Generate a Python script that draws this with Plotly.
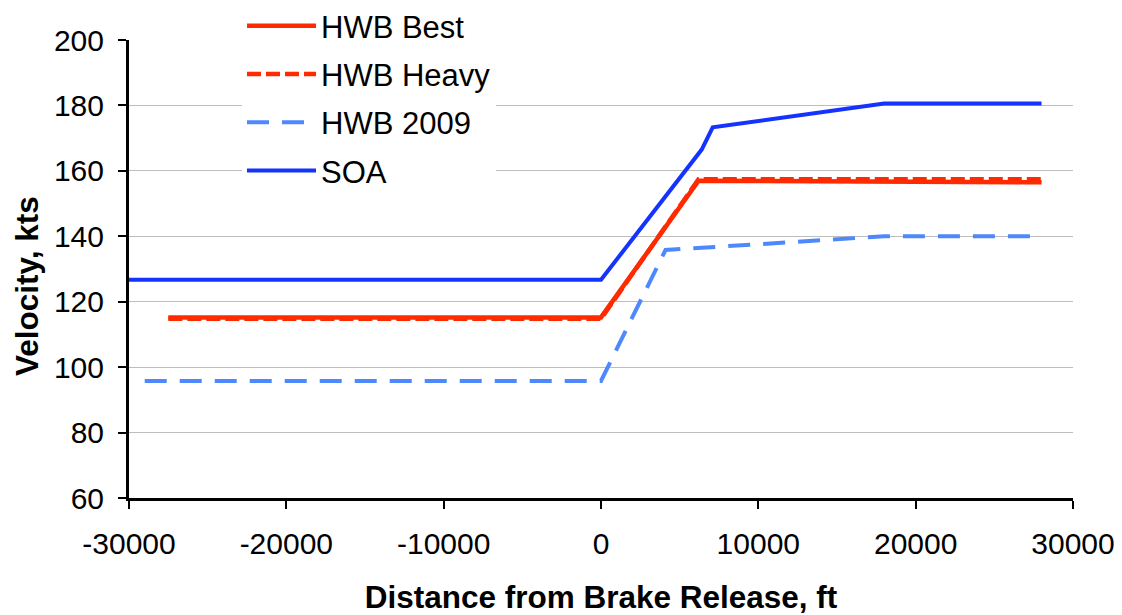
import plotly.graph_objects as go

# Data (distance ft, velocity kts)
best_x = [-27500, 0, 6200, 28000]
best_y = [115.2, 115.2, 157.0, 156.5]

heavy_x = [-27500, 0, 6200, 28000]
heavy_y = [114.8, 114.8, 157.4, 157.4]

hwb2009_x = [-29000, 0, 4100, 18000, 28000]
hwb2009_y = [95.8, 95.8, 135.8, 140.0, 140.0]

soa_x = [-30000, 0, 6400, 7100, 18000, 28000]
soa_y = [126.7, 126.7, 166.5, 173.3, 180.6, 180.6]

x_ticks = [-30000, -20000, -10000, 0, 10000, 20000, 30000]
y_ticks = [60, 80, 100, 120, 140, 160, 180, 200]

RED = "#ff2a00"
BLUE = "#1433ff"
LBLUE = "#4d88ff"

W, H = 1114, 607
L, R, T, B = 121, 49, 32, 117
PW, PH = W - L - R, H - T - B

fig = go.Figure()
fig.add_trace(go.Scatter(x=best_x, y=best_y, mode="lines", name="HWB Best",
                         legendgroup="a",
                         line=dict(color=RED, width=4.5)))
fig.add_trace(go.Scatter(x=heavy_x, y=heavy_y, mode="lines", name="HWB Heavy",
                         legendgroup="b",
                         line=dict(color=RED, width=4.5, dash="14px,5px")))
fig.add_trace(go.Scatter(x=hwb2009_x, y=hwb2009_y, mode="lines", name="HWB 2009",
                         legendgroup="c",
                         line=dict(color=LBLUE, width=4, dash="22px,13px")))
fig.add_trace(go.Scatter(x=soa_x, y=soa_y, mode="lines", name="SOA",
                         legendgroup="d",
                         line=dict(color=BLUE, width=4)))

fig.update_layout(
    width=W, height=H,
    margin=dict(l=L, r=R, t=T, b=B, autoexpand=False),
    paper_bgcolor="white", plot_bgcolor="white",
    font=dict(family="Liberation Sans, Arial, sans-serif", size=30, color="black"),
    showlegend=True,
    legend=dict(xref="paper", yref="paper",
                x=(234 - L) / PW, y=1 + (T + 9) / PH, xanchor="left", yanchor="top",
                bgcolor="white", font=dict(size=31), itemwidth=69,
                tracegroupgap=5, traceorder="grouped"),
    annotations=[dict(text="<b>Velocity, kts</b>", textangle=-90,
                      xref="paper", yref="paper",
                      x=(19 - L) / PW, y=(H - B - 278) / PH,
                      xanchor="center", yanchor="middle", showarrow=False,
                      font=dict(size=31.5))],
)
fig.update_xaxes(
    range=[-30000, 30000], tickvals=x_ticks, ticktext=[str(v) for v in x_ticks],
    showgrid=False, zeroline=False, automargin=True,
    showline=True, linecolor="black", linewidth=3,
    ticks="outside", ticklen=8, tickwidth=2, tickcolor="black",
    tickfont=dict(size=30), ticklabelstandoff=9,
    title=dict(text="<b>Distance from Brake Release, ft</b>", font=dict(size=31.5), standoff=35),
)
fig.update_yaxes(
    range=[60, 200], tickvals=y_ticks,
    showgrid=True, gridcolor="#bdbdbd", gridwidth=1, zeroline=False, automargin=True,
    showline=True, linecolor="black", linewidth=3,
    ticks="outside", ticklen=8, tickwidth=2, tickcolor="black",
    tickfont=dict(size=30), ticklabelstandoff=8,
)

fig.write_html("out.html")
